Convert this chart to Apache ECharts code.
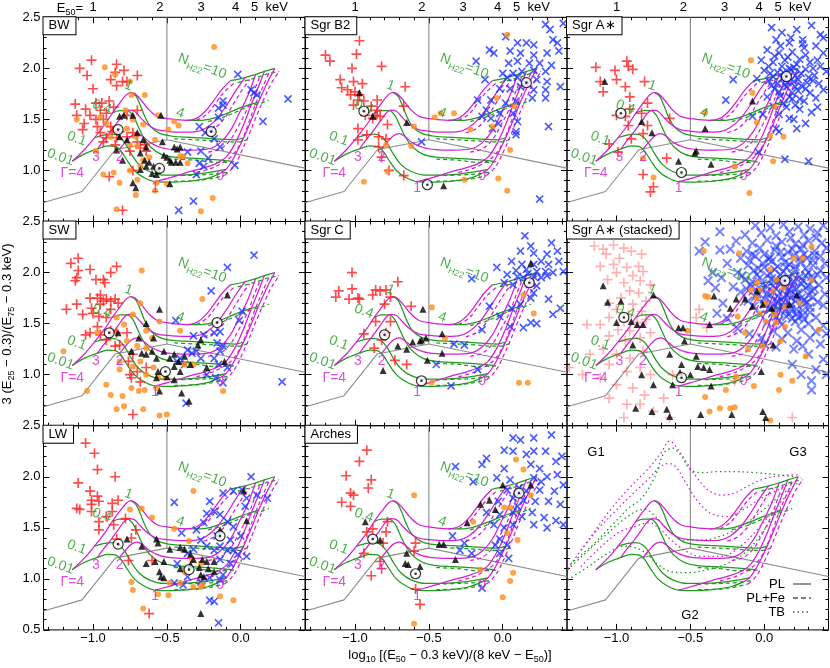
<!DOCTYPE html>
<html><head><meta charset="utf-8">
<script src="https://cdn.jsdelivr.net/npm/echarts@6/dist/echarts.min.js"></script>
<style>html,body{margin:0;padding:0;background:#fff}#c{width:830px;height:668px}</style>
</head><body><div id="c"></div>
<script>
// ---------------- data ----------------
const panelNames = ['BW','Sgr B2','Sgr A\u2217','SW','Sgr C','Sgr A\u2217 (stacked)','LW','Arches',''];
const e50Ticks = [1,2,3,4,5];
const xMajorTicks = [-1.0,-0.5,0.0];
const xMinorTicks = [-1.3,-1.2,-1.1,-0.9,-0.8,-0.7,-0.6,-0.4,-0.3,-0.2,-0.1,0.1,0.2,0.3,0.4];

// boundary lines (gray)
const grayLine = [[-1.335,0.686],[-1.074,0.794],[-0.849,1.203],[-0.5,1.301],[0.435,1.023]];
const grayVert = [[-0.5,1.301],[-0.5,2.5]];

// PL grid, constant photon index (magenta)
const gam4 = [[-1.14,1.09],[-1.06,1.20],[-0.99,1.32],[-0.92,1.45],[-0.87,1.56],[-0.82,1.66],[-0.775,1.74],[-0.745,1.765],[-0.715,1.75],[-0.675,1.69],[-0.625,1.60],[-0.565,1.53],[-0.48,1.505],[-0.37,1.49],[-0.30,1.51],[-0.24,1.58],[-0.185,1.68],[-0.13,1.79],[-0.07,1.88]];
const gam3 = [[-0.97,1.21],[-0.93,1.29],[-0.88,1.38],[-0.83,1.48],[-0.79,1.56],[-0.76,1.59],[-0.72,1.58],[-0.68,1.52],[-0.63,1.45],[-0.57,1.40],[-0.50,1.385],[-0.40,1.375],[-0.30,1.38],[-0.23,1.42],[-0.16,1.51],[-0.09,1.65],[-0.03,1.79],[0.03,1.91]];
const gam2 = [[-0.82,1.21],[-0.78,1.28],[-0.74,1.34],[-0.70,1.36],[-0.66,1.33],[-0.61,1.27],[-0.54,1.225],[-0.45,1.205],[-0.33,1.20],[-0.22,1.21],[-0.14,1.27],[-0.07,1.39],[-0.01,1.56],[0.05,1.74],[0.10,1.94]];
const gam1 = [[-0.58,0.89],[-0.50,0.92],[-0.42,0.955],[-0.34,0.99],[-0.25,1.025],[-0.17,1.065],[-0.10,1.13],[-0.04,1.26],[0.02,1.45],[0.07,1.64],[0.12,1.82],[0.16,1.97]];
const gam0 = [[-0.14,0.97],[-0.10,1.01],[-0.06,1.09],[-0.02,1.20],[0.02,1.32],[0.07,1.49],[0.12,1.67],[0.17,1.83],[0.23,2.00]];
// PL grid, constant column density (green)
const nh001 = [[-1.14,1.09],[-1.06,1.16],[-0.97,1.21],[-0.90,1.24],[-0.85,1.235],[-0.81,1.19],[-0.77,1.10],[-0.72,1.00],[-0.66,0.935],[-0.58,0.89],[-0.45,0.885],[-0.32,0.90],[-0.22,0.925],[-0.14,0.97]];
const nh01 = [[-0.99,1.32],[-0.93,1.345],[-0.87,1.355],[-0.82,1.33],[-0.78,1.26],[-0.74,1.16],[-0.69,1.06],[-0.62,0.99],[-0.52,0.955],[-0.42,0.955],[-0.30,0.965],[-0.19,0.985],[-0.10,1.01]];
const nh04 = [[-0.87,1.56],[-0.82,1.585],[-0.77,1.585],[-0.73,1.54],[-0.70,1.45],[-0.66,1.33],[-0.61,1.23],[-0.54,1.16],[-0.45,1.13],[-0.34,1.12],[-0.22,1.11],[-0.13,1.10],[-0.06,1.09]];
const nh1 = [[-0.745,1.765],[-0.71,1.73],[-0.68,1.64],[-0.65,1.53],[-0.61,1.43],[-0.55,1.365],[-0.46,1.335],[-0.34,1.325],[-0.22,1.315],[-0.12,1.305],[-0.04,1.30],[0.02,1.32]];
const nh4 = [[-0.37,1.49],[-0.28,1.49],[-0.19,1.51],[-0.10,1.555],[-0.01,1.61],[0.06,1.645],[0.12,1.67]];
const nh10 = [[-0.07,1.88],[0.03,1.91],[0.10,1.94],[0.16,1.97],[0.23,2.00]];
// PL+Fe grid (dashed)
const feGam4 = [[-0.30,1.49],[-0.23,1.55],[-0.17,1.66],[-0.11,1.77],[-0.04,1.86]];
const feGam3 = [[-0.25,1.37],[-0.18,1.41],[-0.11,1.51],[-0.05,1.65],[0.01,1.79],[0.06,1.89]];
const feGam2 = [[-0.22,1.18],[-0.14,1.21],[-0.07,1.30],[-0.01,1.45],[0.05,1.62],[0.09,1.78],[0.13,1.92]];
const feGam1 = [[-0.30,0.98],[-0.20,1.02],[-0.13,1.07],[-0.06,1.14],[0.00,1.27],[0.05,1.45],[0.10,1.65],[0.15,1.82],[0.19,1.95]];
const feGam0 = [[-0.11,0.95],[-0.07,1.00],[-0.03,1.08],[0.01,1.20],[0.05,1.33],[0.10,1.51],[0.16,1.71],[0.21,1.86],[0.26,1.97]];
const feNh001 = [[-0.45,0.895],[-0.30,0.90],[-0.20,0.92],[-0.11,0.95]];
const feNh01 = [[-0.45,0.95],[-0.30,0.955],[-0.18,0.965],[-0.08,0.985]];
const feNh04 = [[-0.45,1.11],[-0.30,1.10],[-0.18,1.08],[-0.08,1.08],[-0.03,1.09]];
const feNh1 = [[-0.45,1.31],[-0.30,1.30],[-0.18,1.29],[-0.08,1.28],[0.00,1.28],[0.05,1.31]];
const feNh4 = [[-0.22,1.48],[-0.12,1.52],[-0.02,1.58],[0.06,1.63],[0.14,1.66],[0.19,1.69]];
const feNh10 = [[-0.02,1.86],[0.06,1.89],[0.13,1.92],[0.19,1.95],[0.26,1.97]];
// thermal bremsstrahlung grid (dotted, G panel)
const tbGamA = [[-1.33,1.10],[-1.17,1.42],[-1.04,1.68],[-0.90,1.91],[-0.79,2.07],[-0.70,2.23],[-0.64,2.35],[-0.59,2.28],[-0.53,2.15],[-0.46,2.00],[-0.38,1.87],[-0.29,1.82],[-0.20,1.84],[-0.11,1.91],[0.00,1.98],[0.11,2.01],[0.24,2.02]];
const tbGamB = [[-1.24,1.28],[-1.13,1.48],[-1.01,1.66],[-0.90,1.82],[-0.79,1.97],[-0.70,2.10],[-0.65,2.13],[-0.60,2.10],[-0.53,1.94],[-0.45,1.76],[-0.36,1.64],[-0.25,1.61],[-0.14,1.68],[-0.02,1.79],[0.09,1.87],[0.20,1.95]];
const tbGamC = [[-1.24,1.12],[-1.13,1.28],[-0.99,1.45],[-0.88,1.51],[-0.78,1.55],[-0.70,1.48],[-0.63,1.38],[-0.54,1.28],[-0.43,1.22],[-0.29,1.22],[-0.16,1.32],[-0.05,1.48],[0.07,1.68],[0.18,1.87]];
const tbNhA = [[-1.31,1.15],[-1.17,1.32],[-1.04,1.51],[-0.92,1.69],[-0.83,1.79],[-0.74,2.00],[-0.68,2.23],[-0.62,2.28],[-0.56,2.20],[-0.50,2.07],[-0.41,2.04],[-0.32,2.05],[-0.20,2.05],[-0.07,2.04],[0.09,2.02],[0.25,1.99]];
const tbNhB = [[-1.33,1.09],[-1.22,1.24],[-1.08,1.42],[-0.97,1.56],[-0.87,1.66],[-0.81,1.68],[-0.75,1.63],[-0.70,1.55],[-0.63,1.45],[-0.54,1.38],[-0.43,1.38],[-0.29,1.42],[-0.16,1.51],[-0.02,1.66],[0.11,1.82],[0.23,1.94]];
const tbNhC = [[-1.33,0.99],[-1.19,1.12],[-1.06,1.25],[-0.95,1.32],[-0.86,1.30],[-0.79,1.24],[-0.72,1.14],[-0.63,1.07],[-0.52,1.06],[-0.38,1.09],[-0.25,1.15],[-0.11,1.28],[0.00,1.48],[0.11,1.71]];

// grid labels
const nhLabelText = ['0.01','0.1','0.4','1','4','{n|N}{s|H22}{n|=10}'];
const nhLabelAt = [[-1.22,1.13],[-1.11,1.31],[-0.94,1.62],[-0.76,1.83],[-0.41,1.56],[-0.26,2.02]];
const gamLabelText = ['\u0393=4','3','2','1','0'];
const gamLabelAt = [[-1.14,0.97],[-0.98,1.13],[-0.82,1.13],[-0.58,0.83],[-0.14,0.94]];

// ---- BW ----
const bwRed = [[-1.01,2.08],[-1.09,2.00],[-0.84,2.04],[-0.79,1.98],[-1.04,1.93],[-0.85,1.96],[-0.88,1.89],[-0.70,1.93],[-0.84,1.83],[-0.80,1.87],[-1.00,1.80],[-0.77,1.87],[-1.12,1.65],[-1.05,1.60],[-0.98,1.66],[-0.94,1.66],[-0.89,1.68],[-1.11,1.54],[-1.02,1.54],[-0.95,1.59],[-0.91,1.56],[-0.86,1.62],[-1.06,1.46],[-0.97,1.43],[-0.88,1.43],[-0.77,1.54],[-0.70,1.59],[-0.82,1.38],[-0.95,1.37],[-0.91,1.32],[-0.84,1.32],[-0.77,1.33],[-0.93,1.28],[-0.85,1.25],[-0.73,1.37],[-0.70,1.28],[-0.68,1.22],[-0.75,1.19],[-0.65,1.25],[-0.64,1.19],[-0.73,1.00],[-0.89,0.94],[-0.80,0.61],[-1.07,1.40],[-0.98,1.50],[-0.93,1.50],[-0.87,1.38]];
const bwOrange = [[-0.92,2.01],[-0.18,2.21],[-0.85,1.94],[-0.75,1.87],[-0.65,1.74],[-0.74,1.74],[-0.78,1.59],[-1.11,1.50],[-0.95,1.52],[-0.91,1.46],[-0.73,1.50],[-0.66,1.45],[-0.77,1.41],[-0.71,1.33],[-0.56,1.54],[-0.45,1.48],[-0.42,1.44],[-0.49,1.40],[-0.98,1.19],[-0.88,1.33],[-0.75,1.25],[-0.70,1.24],[-0.58,1.30],[-0.41,1.14],[-0.36,1.07],[-0.39,1.14],[-0.62,1.13],[-0.86,0.98],[-0.93,0.96],[-0.75,1.00],[-0.70,0.91],[-0.82,0.88],[-0.57,0.88],[-0.50,0.87],[-0.58,0.80],[-0.71,0.76],[-0.84,0.62],[-0.27,0.60],[-0.19,0.73],[-0.66,1.10],[-0.68,1.04]];
const bwTri = [[-0.82,1.53],[-0.79,1.54],[-0.73,1.54],[-0.54,1.54],[-0.82,1.33],[-0.77,1.30],[-0.70,1.37],[-0.66,1.30],[-0.64,1.23],[-0.68,1.17],[-0.65,1.10],[-0.62,1.08],[-0.59,1.04],[-0.56,1.00],[-0.52,1.15],[-0.50,1.13],[-0.45,1.23],[-0.43,1.21],[-0.41,1.23],[-0.48,1.10],[-0.47,1.08],[-0.44,1.08],[-0.41,1.08],[-0.57,0.96],[-0.60,0.97],[-0.48,0.87],[-0.71,0.83],[-0.73,0.88],[-0.84,1.20],[-0.80,1.10],[-0.64,1.04],[-0.53,1.28],[-0.68,1.01]];
const bwBlue = [[-0.02,1.94],[0.32,1.70],[0.15,1.48],[-0.12,1.68],[-0.15,1.61],[-0.15,1.52],[-0.28,1.43],[-0.24,1.37],[-0.20,1.40],[-0.14,1.23],[-0.27,1.19],[-0.22,1.12],[-0.28,1.07],[-0.25,1.04],[-0.30,0.96],[-0.04,1.05],[-0.32,0.70],[-0.42,0.61],[0.07,1.79],[0.11,1.74],[0.09,1.76],[-0.36,1.18],[-0.18,1.31],[-0.12,1.64]];
const bwSun = [[-0.83,1.40],[-0.55,1.02],[-0.20,1.38]];

// ---- Sgr B2 ----
const b2Red = [[-0.97,2.27],[-0.99,2.14],[-1.20,2.13],[-1.17,2.07],[-1.02,2.00],[-0.82,2.02],[-1.10,1.89],[-1.01,1.87],[-0.95,1.85],[-1.09,1.81],[-1.05,1.79],[-1.00,1.77],[-1.03,1.74],[-0.97,1.74],[-0.98,1.69],[-0.94,1.68],[-0.85,1.69],[-0.89,1.63],[-1.01,1.64],[-0.93,1.54],[-0.86,1.54],[-0.83,1.53],[-0.78,1.45],[-0.98,1.41],[-0.92,1.35],[-0.98,1.30],[-0.84,1.33],[-0.79,1.31],[-0.84,1.23],[-0.82,1.13],[-0.77,1.00],[-0.67,0.95],[-0.66,1.82],[-0.67,1.63],[-0.85,1.59],[-0.88,1.51]];
const b2Orange = [[0.03,2.33],[-0.04,1.71],[0.08,1.63],[-0.07,1.43],[-0.22,1.40],[-0.33,1.56],[-0.46,1.52],[-0.60,1.43],[-0.42,1.56],[-0.79,1.25],[-0.78,0.99],[-0.94,0.89],[-0.26,0.91],[-0.03,0.92],[0.03,0.80],[0.05,1.20],[-0.62,1.24]];
const b2Tri = [[-0.97,1.76],[-0.88,1.53],[-0.65,1.47],[-0.40,0.85]];
const b2Blue = [[0.29,2.43],[0.32,2.38],[0.41,2.44],[0.02,2.31],[0.10,2.25],[0.16,2.25],[0.21,2.23],[0.34,2.28],[0.37,2.25],[-0.09,2.18],[-0.06,2.15],[0.05,2.17],[0.12,2.15],[0.21,2.13],[0.30,2.15],[0.38,2.17],[-0.18,2.07],[0.04,2.05],[0.10,2.07],[0.18,2.05],[0.25,2.05],[0.33,2.03],[0.00,1.95],[0.07,1.95],[0.13,1.97],[0.21,1.98],[0.29,1.97],[-0.12,1.89],[0.03,1.91],[0.10,1.91],[0.16,1.85],[0.23,1.89],[0.30,1.87],[-0.02,1.80],[0.05,1.80],[0.12,1.82],[0.21,1.79],[0.29,1.79],[0.39,1.82],[-0.17,1.69],[-0.08,1.69],[0.02,1.66],[0.09,1.68],[0.20,1.71],[0.29,1.71],[-0.11,1.59],[-0.02,1.56],[0.07,1.56],[0.10,1.48],[-0.14,1.53],[-0.08,1.51],[-0.03,1.46],[0.09,1.38],[0.09,1.35],[0.31,1.43],[-0.55,1.28],[0.25,0.72],[-0.07,1.41]];
const b2Sun = [[-0.94,1.58],[-0.51,0.86],[0.16,1.86]];

// ---- Sgr A* ----
const aRed = [[-1.14,2.01],[-1.01,1.98],[-0.93,2.07],[-0.92,2.02],[-0.89,1.99],[-1.00,1.89],[-0.94,1.82],[-1.11,1.87],[-1.09,1.77],[-0.91,1.72],[-0.79,1.66],[-0.81,1.87],[-0.91,1.60],[-1.00,1.54],[-0.94,1.53],[-0.83,1.56],[-0.92,1.44],[-0.79,1.44],[-0.82,1.36],[-0.90,1.31],[-0.64,1.51],[-1.05,1.26],[-0.99,1.18],[-0.66,1.12],[-0.82,0.96],[-0.75,0.84],[-0.77,0.79]];
const aOrange = [[-0.09,2.08],[-0.08,1.76],[-0.40,1.57],[-0.05,1.47],[0.07,1.63],[0.04,1.34],[0.13,1.33],[0.06,1.09],[-0.20,1.04],[-0.10,0.78],[-0.82,1.12],[-0.75,0.93]];
const aTri = [[-1.08,1.87],[-0.83,1.48],[-0.76,1.37],[-0.40,1.41],[-0.47,1.17],[-0.46,1.19],[-0.58,1.09],[-0.36,1.06],[-0.08,1.68]];
const aBlue = [[0.05,2.40],[0.12,2.35],[0.22,2.38],[0.32,2.42],[0.38,2.33],[0.08,2.28],[0.17,2.25],[0.26,2.28],[0.35,2.22],[0.02,2.18],[0.10,2.15],[0.19,2.16],[0.28,2.13],[0.40,2.15],[-0.02,2.08],[0.06,2.06],[0.14,2.08],[0.22,2.04],[0.31,2.06],[0.38,2.02],[0.00,1.98],[0.09,1.96],[0.18,1.99],[0.25,1.95],[0.34,1.93],[0.42,1.97],[-0.05,1.90],[0.03,1.88],[0.12,1.90],[0.20,1.87],[0.29,1.86],[0.37,1.85],[0.07,1.80],[0.15,1.82],[0.23,1.78],[0.31,1.76],[0.40,1.79],[0.02,1.72],[0.11,1.73],[0.19,1.70],[0.27,1.68],[0.35,1.71],[0.06,1.63],[0.15,1.62],[0.24,1.60],[0.32,1.57],[0.10,1.55],[0.20,1.50],[0.28,1.46],[0.17,2.00],[0.13,1.96],[0.21,1.93],[0.16,1.86],[0.25,1.83],[0.09,1.85],[0.33,2.00],[0.11,2.22],[0.27,2.20],[0.04,1.95],[0.19,1.76],[-0.21,1.89],[-0.26,1.69],[-0.08,1.53],[-0.01,1.55],[0.08,1.41],[0.10,1.38],[0.17,1.51],[0.22,1.41],[0.14,1.11],[0.30,1.09],[-0.04,1.18],[0.07,2.12],[0.16,2.11],[0.24,2.09],[0.12,2.02],[0.20,2.01],[0.28,1.99],[0.06,1.92],[0.23,1.89],[0.30,1.91],[0.14,1.84],[0.21,1.82],[0.28,1.80],[0.10,1.77],[0.17,1.72],[0.24,1.70],[0.13,1.66],[0.21,1.64],[0.03,2.02],[0.26,2.24],[0.18,2.30],[0.36,2.08],[0.33,1.88],[0.05,1.83],[0.36,1.62],[0.40,2.30]];
const aSun = [[-0.97,1.56],[-0.56,0.98],[0.15,1.92]];

// ---- SW ----
const swRed = [[-1.15,2.09],[-1.10,2.14],[-1.10,2.02],[-1.11,1.95],[-1.02,2.03],[-1.12,1.92],[-0.98,1.93],[-0.93,1.93],[-0.92,1.90],[-0.88,2.00],[-0.84,2.06],[-1.18,1.64],[-1.11,1.69],[-1.07,1.59],[-1.02,1.75],[-1.01,1.65],[-0.97,1.75],[-0.95,1.69],[-0.93,1.72],[-0.91,1.74],[-0.88,1.72],[-0.85,1.74],[-1.00,1.60],[-0.96,1.57],[-0.88,1.64],[-0.83,1.70],[-0.91,1.56],[-0.97,1.47],[-1.02,1.41],[-0.95,1.39],[-0.88,1.43],[-0.84,1.41],[-0.77,1.41],[-0.91,1.34],[-0.85,1.28],[-0.82,1.29],[-0.76,1.13],[-0.73,1.20],[-0.75,1.00],[-0.70,1.03],[-0.64,1.07],[-0.74,0.97],[-0.68,0.93],[-0.73,0.61],[-1.05,1.39],[-0.95,1.78]];
const swOrange = [[-0.67,2.02],[-1.20,1.23],[-0.97,1.41],[-0.84,1.56],[-0.73,1.59],[-0.68,1.70],[-0.64,1.43],[-0.60,1.36],[-0.55,1.52],[-0.41,1.43],[-0.26,1.74],[-0.79,1.49],[-0.77,1.33],[-0.70,1.28],[-0.64,1.26],[-0.82,1.13],[-0.82,1.05],[-0.73,1.08],[-0.68,1.13],[-0.64,1.00],[-0.59,1.07],[-0.56,0.98],[-0.51,0.97],[-0.91,0.90],[-1.04,0.84],[-0.88,0.80],[-0.80,0.79],[-0.74,0.87],[-0.69,0.84],[-0.65,0.85],[-0.57,0.87],[-0.84,0.66],[-0.79,0.69],[-0.66,0.66],[-0.55,0.60],[-0.50,0.61],[-0.12,0.84],[-0.38,1.10],[-0.32,1.10]];
const swTri = [[-0.55,1.64],[-0.64,1.50],[-0.59,1.36],[-0.69,1.36],[-0.83,1.41],[-0.74,1.23],[-0.67,1.21],[-0.64,1.20],[-0.60,1.23],[-0.57,1.16],[-0.52,1.23],[-0.48,1.16],[-0.45,1.20],[-0.42,1.13],[-0.38,1.18],[-0.34,1.10],[-0.29,1.29],[-0.27,1.34],[-0.23,1.07],[-0.56,1.03],[-0.50,0.98],[-0.45,0.95],[-0.41,1.03],[-0.55,0.84],[-0.40,0.82],[-0.35,0.74],[-0.09,1.78],[-0.11,1.13],[-0.57,0.97],[-0.45,1.08]];
const swBlue = [[0.09,2.17],[-0.09,2.05],[-0.20,1.82],[-0.44,1.53],[-0.32,1.38],[-0.25,1.39],[-0.18,1.41],[-0.14,1.42],[0.01,1.62],[-0.01,1.53],[-0.36,1.24],[-0.33,1.21],[-0.30,1.23],[-0.27,1.16],[-0.41,1.16],[-0.38,1.10],[-0.43,1.13],[-0.16,1.31],[-0.12,1.28],[-0.14,1.23],[-0.18,1.16],[-0.15,1.10],[-0.23,1.00],[-0.17,0.97],[-0.12,0.92],[-0.09,1.07],[-0.37,0.72],[0.28,0.93]];
const swSun = [[-0.89,1.41],[-0.51,1.03],[-0.16,1.51]];

// ---- Sgr C ----
const cRed = [[-1.02,2.00],[-1.11,1.82],[-1.13,1.76],[-1.02,1.84],[-1.04,1.74],[-0.98,1.75],[-0.97,1.74],[-0.86,1.83],[-0.83,1.82],[-0.79,1.83],[-0.88,1.78],[-0.71,1.91],[-0.76,1.76],[-0.80,1.69],[-0.62,1.67],[-0.86,1.52],[-0.76,1.52],[-0.79,1.41],[-0.94,1.40],[-0.87,1.26],[-0.82,1.34],[-0.73,1.14],[-0.65,1.10]];
const cOrange = [[-0.48,1.66],[-0.39,1.36],[-0.48,0.92],[0.11,0.92],[0.17,0.92],[0.14,1.78],[0.21,1.60]];
const cTri = [[-0.54,1.64],[-0.41,1.40],[-0.52,1.36],[-0.55,1.34],[-0.56,1.33],[-0.61,1.32],[-0.71,1.28],[-0.65,1.25],[-0.41,1.21],[-0.51,1.14],[-0.81,1.04],[0.19,2.09]];
const cBlue = [[0.15,2.36],[0.19,2.26],[0.33,2.29],[0.12,2.21],[0.21,2.19],[0.30,2.18],[0.37,2.21],[0.06,2.11],[0.13,2.08],[0.21,2.08],[0.26,2.11],[0.31,2.08],[0.38,2.11],[-0.04,2.05],[0.16,2.03],[0.23,2.01],[0.29,2.01],[0.34,2.00],[0.41,2.01],[0.03,1.98],[0.10,1.96],[0.14,1.95],[0.21,1.96],[0.26,1.95],[-0.21,1.94],[0.01,1.90],[0.07,1.88],[0.23,1.87],[0.21,1.80],[0.19,1.75],[0.12,1.69],[0.31,1.74],[0.39,1.65],[0.34,1.59],[-0.09,1.67],[0.06,1.65],[-0.02,1.57],[0.05,1.47],[0.19,1.51],[0.23,1.50],[0.14,1.46],[-0.14,1.44],[-0.33,1.30],[-0.26,1.29],[-0.45,1.10],[-0.17,1.05],[-0.35,0.89],[0.30,1.97],[0.17,1.99],[0.09,2.02]];
const cSun = [[-0.80,1.39],[-0.55,0.94],[0.18,1.90]];

// ---- Sgr A* stacked ----
const sRed = [[-1.15,2.26],[-1.09,2.23],[-1.02,2.27],[-0.95,2.24],[-0.90,2.21],[-0.83,2.18],[-1.07,2.18],[-0.98,2.14],[-1.11,2.06],[-1.02,2.08],[-0.93,2.05],[-0.85,2.06],[-0.82,2.01],[-1.00,2.00],[-0.89,1.97],[-1.06,1.93],[-0.95,1.90],[-0.84,1.92],[-0.77,1.88],[-0.91,1.82],[-0.85,1.80],[-0.97,1.75],[-1.05,1.70],[-0.89,1.69],[-0.80,1.72],[-1.00,1.64],[-0.92,1.59],[-0.83,1.62],[-1.05,1.56],[-0.95,1.52],[-0.86,1.51],[-0.80,1.54],[-1.11,1.49],[-0.99,1.44],[-0.91,1.43],[-1.05,1.38],[-0.94,1.33],[-0.84,1.36],[-0.77,1.41],[-1.09,1.25],[-1.00,1.20],[-0.91,1.16],[-0.82,1.23],[-1.05,1.10],[-0.93,1.03],[-0.84,1.07],[-0.77,1.00],[-1.11,0.97],[-1.00,0.90],[-0.89,0.87],[-0.81,0.80],[-1.05,0.77],[-0.93,0.71],[-0.84,0.71],[-0.75,0.64],[-0.95,0.58],[-0.64,0.58],[-0.62,1.00],[-0.44,1.64],[-0.46,1.56],[-0.39,1.46],[-0.68,0.77],[0.19,0.58],[-0.20,0.94],[-1.32,1.07],[-1.23,1.00],[-1.18,1.20],[-1.20,1.49]];
const sOrange = [[-0.41,2.21],[-0.17,2.19],[0.32,2.25],[0.20,2.14],[0.26,2.14],[0.04,2.03],[0.08,1.93],[0.32,1.93],[-0.05,1.90],[-0.09,1.83],[-0.03,1.83],[0.06,1.82],[0.13,1.85],[-0.05,1.75],[0.01,1.70],[0.14,1.66],[0.24,1.70],[-0.03,1.60],[0.07,1.59],[-0.18,1.57],[0.01,1.52],[0.08,1.51],[0.14,1.47],[0.37,1.44],[-0.40,1.77],[-0.38,1.76],[-0.13,1.41],[-0.52,1.43],[-0.11,1.25],[-0.01,1.28],[0.11,1.33],[0.11,1.00],[0.10,0.85],[0.19,0.94],[-0.40,0.78],[-0.30,0.67],[-0.23,0.67],[-0.20,0.68],[-0.37,0.64],[0.04,0.55],[-0.26,0.85],[-0.07,0.89],[0.28,1.18],[-0.19,0.98]];
const sTri = [[-1.09,1.87],[-1.06,1.71],[-0.97,1.72],[-1.00,1.51],[-0.90,1.52],[-0.86,1.49],[-0.82,1.49],[-0.75,1.78],[-0.89,1.29],[-0.58,1.46],[-0.55,1.46],[-0.37,1.49],[-0.23,1.65],[-0.19,1.74],[-0.05,1.82],[-0.01,1.69],[-0.08,1.67],[0.05,1.65],[0.17,1.69],[0.22,1.78],[-0.13,1.74],[-0.34,1.77],[-0.54,1.33],[-0.46,1.18],[-0.64,1.20],[-0.45,1.08],[-0.56,1.10],[-0.57,1.02],[-0.41,1.07],[-0.37,1.05],[-0.50,1.00],[-0.36,0.89],[-0.62,0.90],[-0.75,0.90],[-0.83,1.00],[-0.87,0.67],[-0.76,0.64],[-0.66,0.66],[-0.64,0.59],[-0.43,0.61],[-0.22,0.61],[-0.01,0.64],[0.01,0.58],[-0.02,1.03],[0.06,1.29]];
const sBlue = [[-0.06,2.46],[0.04,2.44],[0.13,2.47],[0.23,2.45],[0.31,2.43],[0.40,2.46],[-0.13,2.37],[-0.02,2.39],[0.08,2.36],[0.17,2.40],[0.27,2.37],[0.36,2.39],[-0.19,2.31],[-0.08,2.29],[0.02,2.32],[0.12,2.30],[0.21,2.28],[0.30,2.31],[0.39,2.29],[-0.23,2.23],[-0.12,2.21],[-0.03,2.24],[0.07,2.22],[0.16,2.20],[0.25,2.23],[0.34,2.21],[0.42,2.24],[-0.16,2.14],[-0.06,2.16],[0.03,2.13],[0.12,2.15],[0.20,2.17],[0.29,2.14],[0.38,2.16],[-0.25,2.09],[-0.11,2.07],[-0.01,2.09],[0.09,2.06],[0.17,2.08],[0.25,2.10],[0.33,2.07],[0.41,2.09],[-0.18,2.00],[-0.07,2.02],[0.04,1.99],[0.13,2.01],[0.21,2.03],[0.30,2.00],[0.38,2.02],[-0.29,1.95],[-0.13,1.93],[-0.03,1.95],[0.07,1.92],[0.16,1.94],[0.24,1.96],[0.33,1.93],[0.42,1.95],[-0.21,1.86],[-0.09,1.88],[0.02,1.86],[0.11,1.89],[0.19,1.87],[0.28,1.85],[0.37,1.88],[-0.16,1.81],[-0.05,1.79],[0.06,1.81],[0.15,1.78],[0.23,1.80],[0.32,1.82],[0.41,1.79],[-0.11,1.72],[0.00,1.74],[0.09,1.72],[0.18,1.75],[0.27,1.73],[0.36,1.71],[-0.07,1.67],[0.04,1.65],[0.13,1.67],[0.22,1.64],[0.31,1.66],[0.40,1.68],[-0.03,1.59],[0.08,1.57],[0.17,1.60],[0.26,1.58],[0.35,1.56],[0.02,1.51],[0.12,1.49],[0.21,1.52],[0.30,1.50],[0.40,1.48],[0.06,1.43],[0.16,1.41],[0.25,1.44],[0.35,1.42],[0.12,1.35],[0.22,1.33],[0.31,1.36],[-0.10,2.12],[0.00,2.18],[0.08,2.26],[0.18,2.34],[0.26,2.27],[0.35,2.34],[-0.04,2.04],[0.05,2.11],[0.15,2.05],[0.24,2.14],[0.33,2.12],[-0.15,1.97],[-0.08,1.91],[0.02,1.97],[0.11,1.98],[0.20,1.91],[0.28,1.97],[0.36,1.98],[-0.12,1.84],[-0.02,1.83],[0.08,1.84],[0.17,1.83],[0.25,1.89],[0.34,1.84],[-0.06,1.76],[0.04,1.78],[0.13,1.76],[0.22,1.77],[0.30,1.78],[0.00,1.69],[0.09,1.70],[0.18,1.68],[0.27,1.69],[0.06,1.61],[0.14,1.62],[0.22,1.60],[0.31,1.61],[0.10,1.53],[0.19,1.55],[0.27,1.54],[-0.30,2.22],[-0.44,2.21],[0.32,0.94],[0.32,0.85],[0.19,1.10],[0.26,1.28],[0.08,1.27],[-0.02,1.36],[-0.33,1.85],[-0.28,1.70],[0.38,1.30],[0.42,1.40],[-0.35,2.00],[-0.38,1.92],[-0.32,1.60],[-0.25,1.55],[-0.18,1.45],[-0.10,1.40],[0.00,1.30],[0.20,1.25],[0.30,1.20],[0.40,1.15],[0.35,1.05],[0.25,1.00],[0.42,1.00],[-0.40,2.30],[-0.30,2.40],[0.00,2.05],[0.07,2.03],[0.14,2.10],[0.21,2.06],[0.28,2.04],[-0.05,1.98],[0.05,1.94],[0.12,1.93],[0.19,1.98],[0.26,1.92],[0.32,1.96],[-0.01,1.89],[0.06,1.87],[0.14,1.86],[0.22,1.84],[0.30,1.87],[0.02,1.79],[0.09,1.77],[0.17,1.80],[0.25,1.75],[0.33,1.76],[0.05,1.70],[0.13,1.71],[0.21,1.72],[0.29,1.71],[0.10,1.64],[0.18,1.64],[0.26,1.63],[0.04,2.15],[0.11,2.20],[0.19,2.23],[0.27,2.18],[0.34,2.17],[-0.08,2.18],[0.15,1.57],[0.23,1.56]];
const sSun = [[-0.95,1.56],[-0.56,0.97],[0.14,1.92]];

// ---- LW ----
const lwRed = [[-1.05,2.33],[-0.99,2.23],[-0.97,2.07],[-1.10,1.94],[-0.85,2.00],[-1.02,1.86],[-1.01,1.77],[-0.97,1.81],[-0.96,1.76],[-1.01,1.73],[-1.11,1.69],[-1.09,1.68],[-1.01,1.66],[-0.87,1.74],[-0.83,1.77],[-0.87,1.66],[-0.86,1.53],[-0.96,1.56],[-0.96,1.48],[-0.78,1.59],[-0.71,1.48],[-0.74,1.40],[-0.84,1.39],[-0.76,1.18],[-0.60,1.18],[-0.62,0.66],[-0.91,1.61]];
const lwOrange = [[-0.75,1.68],[-0.67,1.69],[-0.60,1.60],[-0.32,1.86],[-0.45,1.49],[-0.35,1.37],[-0.74,0.97],[-0.73,0.89],[-0.66,0.71],[-0.56,0.85],[-0.49,0.84],[-0.41,0.96],[-0.38,1.07],[-0.32,0.92],[-0.27,0.92],[-0.26,0.94],[-0.14,0.83],[-0.05,0.79],[-0.48,0.96],[-0.27,1.15],[-0.33,1.19]];
const lwTri = [[-0.77,1.39],[-0.67,1.32],[-0.57,1.39],[-0.56,1.35],[-0.48,1.29],[-0.41,1.31],[-0.38,1.29],[-0.34,1.24],[-0.32,1.19],[-0.64,1.15],[-0.58,1.17],[-0.52,1.17],[-0.55,1.07],[-0.54,1.02],[-0.52,1.01],[-0.41,1.10],[-0.34,1.14],[-0.26,1.19],[-0.23,1.17],[-0.28,1.11],[-0.22,1.10],[-0.27,1.04],[-0.25,1.02],[-0.18,1.07],[0.02,1.86],[0.04,1.57],[-0.14,1.48],[-0.27,0.66],[-0.18,1.17]];
const lwBlue = [[0.07,2.00],[0.01,1.87],[0.18,1.79],[0.04,1.79],[-0.21,1.76],[-0.12,1.84],[-0.05,1.86],[-0.45,1.75],[-0.40,1.45],[-0.30,1.48],[-0.23,1.64],[-0.18,1.66],[-0.14,1.63],[-0.25,1.55],[-0.09,1.56],[-0.05,1.51],[0.00,1.42],[-0.07,1.38],[-0.16,1.42],[-0.27,1.38],[-0.23,1.32],[-0.18,1.28],[-0.14,1.32],[-0.09,1.28],[-0.05,1.28],[-0.02,1.24],[0.04,1.22],[-0.07,1.15],[-0.14,1.19],[-0.32,1.29],[-0.36,1.25],[-0.43,1.15],[-0.45,0.96],[-0.39,0.94],[-0.36,1.02],[-0.27,0.97],[-0.21,1.01],[-0.14,0.99],[-0.12,1.04],[-0.21,0.79],[-0.18,0.78],[-0.15,0.57],[0.11,1.82],[0.03,1.71]];
const lwSun = [[-0.83,1.34],[-0.35,1.09],[-0.14,1.42]];

// ---- Arches ----
const arRed = [[-0.92,2.26],[-0.97,2.15],[-1.06,2.01],[-0.89,1.97],[-0.91,1.89],[-1.03,1.84],[-1.01,1.82],[-1.09,1.75],[-1.03,1.71],[-0.92,1.46],[-0.78,1.56],[-0.79,1.46],[-0.88,1.49],[-0.81,1.35],[-0.94,1.25],[-0.83,1.17],[-0.82,1.10],[-0.89,1.03],[-0.59,1.35],[-0.60,1.27],[-0.59,0.90],[-0.56,0.75]];
const arOrange = [[-0.60,1.82],[0.09,2.17],[0.14,2.07],[0.19,1.82],[0.01,1.70],[0.05,1.70],[-0.20,1.56],[0.03,1.45],[0.10,1.38],[-0.15,1.09],[0.07,1.06],[0.05,0.98],[0.00,0.82],[-0.60,0.56]];
const arTri = [[-0.93,1.56],[-0.83,1.38],[-0.65,1.25],[-0.66,1.15],[-0.64,1.14],[-0.56,1.12],[-0.43,1.34],[-0.40,1.34],[-0.32,1.19],[-0.24,1.55],[-0.15,1.73],[-0.09,1.77],[-0.05,1.68],[0.00,1.92],[0.19,1.92]];
const arBlue = [[0.07,2.38],[0.12,2.36],[0.21,2.38],[0.33,2.41],[0.01,2.26],[0.07,2.25],[0.21,2.25],[0.29,2.25],[-0.14,2.12],[-0.11,2.18],[0.01,2.08],[0.19,2.12],[0.25,2.08],[0.36,2.15],[0.40,2.20],[-0.04,1.99],[0.05,1.97],[0.21,1.99],[0.30,2.00],[0.37,2.02],[-0.20,1.95],[0.03,1.87],[0.11,1.89],[0.16,1.86],[0.25,1.87],[0.35,1.86],[0.41,1.92],[0.07,1.79],[0.14,1.77],[0.22,1.76],[0.31,1.76],[0.39,1.73],[-0.03,1.76],[-0.11,1.65],[-0.02,1.63],[0.07,1.65],[0.13,1.61],[0.20,1.65],[0.28,1.60],[0.36,1.57],[0.41,1.53],[-0.06,1.53],[0.01,1.50],[0.07,1.53],[0.21,1.53],[0.30,1.50],[-0.02,1.39],[-0.05,1.33],[0.03,1.33],[-0.02,1.25],[0.04,1.20],[-0.21,1.25],[-0.29,1.28],[-0.34,1.42],[-0.26,1.35],[-0.14,0.91],[-0.32,2.10],[0.16,2.22],[0.26,1.95],[0.10,1.71]];
const arSun = [[-0.88,1.39],[-0.59,1.05],[0.11,1.84]];

// ---------------- layout & style ----------------
const FONT = "'Liberation Sans', Arial, Helvetica, sans-serif";
const GREEN = '#1f9a1f', MAGENTA = '#d51fd5', GRAY = '#8c8c8c';
const RED = '#ff1f1f', ORANGE = '#ff8c1a', BLUE = '#1f35ff';
const PLUS = 'path://M-1,-6L1,-6L1,-1L6,-1L6,1L1,1L1,6L-1,6L-1,1L-6,1L-6,-1L-1,-1Z';
const X_MIN = -1.335, X_MAX = 0.435;
const GL = [43.5, 305.5, 567], GT = [17.3, 221.5, 425.7], GW = 261.5, GH = 204.2;

const panels = [
  {red:bwRed, orange:bwOrange, tri:bwTri, blue:bwBlue, sun:bwSun},
  {red:b2Red, orange:b2Orange, tri:b2Tri, blue:b2Blue, sun:b2Sun},
  {red:aRed, orange:aOrange, tri:aTri, blue:aBlue, sun:aSun},
  {red:swRed, orange:swOrange, tri:swTri, blue:swBlue, sun:swSun},
  {red:cRed, orange:cOrange, tri:cTri, blue:cBlue, sun:cSun},
  {red:sRed, orange:sOrange, tri:sTri, blue:sBlue, sun:sSun, faint:true},
  {red:lwRed, orange:lwOrange, tri:lwTri, blue:lwBlue, sun:lwSun},
  {red:arRed, orange:arOrange, tri:arTri, blue:arBlue, sun:arSun},
  null
];
const plGamma = [gam4,gam3,gam2,gam1,gam0], plNH = [nh001,nh01,nh04,nh1,nh4,nh10];
const feGamma = [feGam4,feGam3,feGam2,feGam1,feGam0], feNH = [feNh001,feNh01,feNh04,feNh1,feNh4,feNh10];
const tbGamma = [tbGamA,tbGamB,tbGamC], tbNH = [tbNhA,tbNhB,tbNhC];

const RICH = {
  n:{fontSize:14, color:GREEN, fontFamily:FONT, lineHeight:20, verticalAlign:'middle'},
  s:{fontSize:9, color:GREEN, fontFamily:FONT, lineHeight:20, verticalAlign:'bottom'}
};
const TRICH = {
  t:{fontSize:13, color:'#000', fontFamily:FONT, lineHeight:18, verticalAlign:'middle'},
  s:{fontSize:9, color:'#000', fontFamily:FONT, lineHeight:18, verticalAlign:'bottom'}
};
const fmtX = v => (v < -1e-9 ? '\u2212' : '') + Math.abs(v).toFixed(1);
const e50Pos = e50Ticks.map(e => Math.log10((e - 0.3) / (8 - e)));
const fmtE = v => { const r = Math.pow(10, v); const e = Math.round((0.3 + 8 * r) / (1 + r)); return e === 5 ? '5  keV' : String(e); };

const grids = [], xAxes = [], yAxes = [], series = [], graphics = [];
function xAx(p, pos, ticks, len, label) {
  return {gridIndex:p, type:'value', min:X_MIN, max:X_MAX, position:pos,
    axisLine:{show:false, onZero:false}, splitLine:{show:false},
    axisTick:{show:true, inside:true, length:len, customValues:ticks, lineStyle:{color:'#000', width:1}},
    axisLabel: label || {show:false}};
}
function yAx(p, pos, label) {
  return {gridIndex:p, type:'value', min:0.5, max:2.5, interval:0.5, position:pos,
    axisLine:{show:false, onZero:false}, splitLine:{show:false},
    axisTick:{show:true, inside:true, length:6, lineStyle:{color:'#000', width:1}},
    minorTick:{show:true, splitNumber:5, length:3, lineStyle:{color:'#000', width:1}},
    axisLabel: label || {show:false}};
}
function line(p, data, color, type, width, z) {
  return {type:'line', xAxisIndex:p*4, yAxisIndex:p*2, data, showSymbol:false, symbol:'none', smooth:0.35,
    silent:true, animation:false, clip:true, z:z||2, lineStyle:{color, width:width||1.25, type:type||'solid'}};
}
function sc(p, data, symbol, size, itemStyle, extra) {
  return Object.assign({type:'scatter', xAxisIndex:p*4, yAxisIndex:p*2, data, symbol, symbolSize:size,
    itemStyle, silent:true, animation:false, clip:true, z:4}, extra || {});
}

for (let p = 0; p < 9; p++) {
  const r = Math.floor(p / 3), c = p % 3;
  grids.push({left:GL[c], top:GT[r], width:GW, height:GH, show:true, borderColor:'#000', borderWidth:1, backgroundColor:'rgba(0,0,0,0)'});
  xAxes.push(xAx(p, 'bottom', xMajorTicks, 6, r === 2 ? {show:true, customValues:xMajorTicks, formatter:fmtX, margin:2, fontSize:13, fontFamily:FONT, color:'#000'} : null));
  xAxes.push(xAx(p, 'bottom', xMinorTicks, 3, null));
  xAxes.push(xAx(p, 'top', xMajorTicks, 6, r === 0 ? {show:true, customValues:e50Pos, formatter:fmtE, margin:3, fontSize:13, fontFamily:FONT, color:'#000'} : null));
  xAxes.push(xAx(p, 'top', xMinorTicks, 3, null));
  yAxes.push(yAx(p, 'left', c === 0 ? {show:true, customValues: r === 2 ? [0.5,1,1.5,2,2.5] : [1,1.5,2,2.5], formatter:v => v.toFixed(1), margin:3, fontSize:13, fontFamily:FONT, color:'#000'} : null));
  yAxes.push(yAx(p, 'right', null));

  series.push(Object.assign(line(p, grayLine, GRAY, 'solid', 1.1, 1), {smooth:false}));
  series.push(Object.assign(line(p, grayVert, GRAY, 'solid', 1.1, 1), {smooth:false}));
  if (p === 8) {
    tbGamma.forEach(d => series.push(line(p, d, MAGENTA, [1.5,3], 1.3)));
    tbNH.forEach(d => series.push(line(p, d, GREEN, [1.5,3], 1.3)));
  }
  feNH.forEach(d => series.push(line(p, d, GREEN, [4,3], 1.25)));
  feGamma.forEach(d => series.push(line(p, d, MAGENTA, [4,3], 1.25)));
  plNH.forEach(d => series.push(line(p, d, GREEN)));
  plGamma.forEach(d => series.push(line(p, d, MAGENTA)));

  const pd = panels[p];
  if (pd) {
    series.push(sc(p, nhLabelAt.map((v, i) => ({value:v, label:{show:true, formatter:nhLabelText[i].indexOf('{') === 0 ? nhLabelText[i] : '{n|' + nhLabelText[i] + '}', position:'inside', rotate:-20, rich:RICH}})), 'circle', 1, {color:'rgba(0,0,0,0)'}, {z:5}));
    series.push(sc(p, gamLabelAt.map((v, i) => ({value:v, label:{show:true, formatter:gamLabelText[i], position:'inside', color:MAGENTA, fontSize:14, fontFamily:FONT}})), 'circle', 1, {color:'rgba(0,0,0,0)'}, {z:5}));
    const redCol = pd.faint ? 'rgba(255,40,40,0.45)' : RED;
    const blueCol = pd.faint ? 'rgba(30,50,255,0.75)' : BLUE;
    series.push(sc(p, pd.red, PLUS, 10, {color:redCol}));
    series.push(sc(p, pd.blue, PLUS, pd.faint ? 12 : 10, {color:blueCol}, {symbolRotate:45}));
    series.push(sc(p, pd.orange, 'circle', 6, {color:ORANGE}));
    series.push(sc(p, pd.tri, 'triangle', 7, {color:'#000'}));
    series.push(sc(p, pd.sun, 'circle', 10, {color:'#fff', borderColor:'#000', borderWidth:1.2}, {z:6}));
    series.push(sc(p, pd.sun, 'circle', 2.6, {color:'#000'}, {z:7}));
  }
  if (panelNames[p]) {
    graphics.push({type:'text', x:GL[c], y:GT[r], z:100, silent:true,
      style:{text:panelNames[p], fill:'#000', fontSize:13, fontFamily:FONT, backgroundColor:'#fff', borderColor:'#000', borderWidth:1, padding:[2,6,2,5], lineHeight:13, textAlign:'left', align:'left', textVerticalAlign:'top', verticalAlign:'top'}});
  }
}

graphics.push({type:'text', x:83, y:8.5, z:100, silent:true,
  style:{text:'{t|E}{s|50}{t|=}', rich:TRICH, textAlign:'right', align:'right', textVerticalAlign:'middle', verticalAlign:'middle'}});
graphics.push({type:'text', x:7, y:324, rotation:Math.PI/2, z:100, silent:true,
  style:{text:'{t|3 (E}{s|25}{t| \u2212 0.3)/(E}{s|75}{t| \u2212 0.3 keV)}', rich:TRICH, textAlign:'center', align:'center', textVerticalAlign:'middle', verticalAlign:'middle'}});
graphics.push({type:'text', x:450, y:655, z:100, silent:true,
  style:{text:'{t|log}{s|10}{t| [(E}{s|50}{t| \u2212 0.3 keV)/(8 keV \u2212 E}{s|50}{t|)]}', rich:TRICH, textAlign:'center', align:'center', textVerticalAlign:'middle', verticalAlign:'middle'}});
[['G1',596,452],['G3',798,452],['G2',690,615]].forEach(g => graphics.push({type:'text', x:g[1], y:g[2], z:100, silent:true,
  style:{text:g[0], fill:'#000', fontSize:13, fontFamily:FONT, textAlign:'center', align:'center', textVerticalAlign:'middle', verticalAlign:'middle'}}));
[['PL',584,null],['PL+Fe',598,[5,3]],['TB',612,[1.5,3]]].forEach(l => {
  graphics.push({type:'text', x:785, y:l[1], z:100, silent:true,
    style:{text:l[0], fill:'#000', fontSize:13, fontFamily:FONT, textAlign:'right', align:'right', textVerticalAlign:'middle', verticalAlign:'middle'}});
  graphics.push({type:'line', z:100, silent:true, shape:{x1:793, y1:l[1], x2:811, y2:l[1]},
    style:{stroke:'#555', lineWidth:1.3, lineDash:l[2] || null}});
});

const chart = echarts.init(document.getElementById('c'), null, {renderer:'canvas'});
chart.setOption({animation:false, backgroundColor:'#fff', grid:grids, xAxis:xAxes, yAxis:yAxes, series, graphic:{elements:graphics}});
</script></body></html>
